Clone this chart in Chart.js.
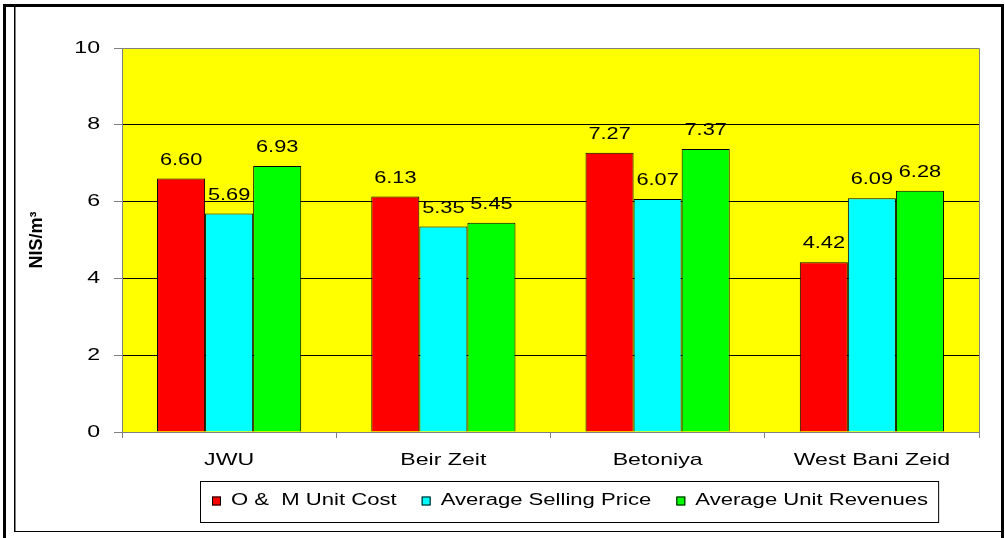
<!DOCTYPE html>
<html>
<head>
<meta charset="utf-8">
<script src="https://cdn.jsdelivr.net/npm/chart.js@4"></script>
<style>
  html, body { margin: 0; padding: 0; background: #fff; }
  #wrap { width: 1005px; height: 538px; position: relative; }
</style>
</head>
<body>
<div id="wrap"><canvas id="costChart" width="1005" height="538"></canvas></div>
<script>
// Data
const sites = ["JWU", "Beir Zeit", "Betoniya", "West Bani Zeid"];
const omUnitCost = [6.60, 6.13, 7.27, 4.42];
const avgSellingPrice = [5.69, 5.35, 6.07, 6.09];
const avgUnitRevenues = [6.93, 5.45, 7.37, 6.28];
const yTicks = [0, 2, 4, 6, 8, 10];
const seriesNames = ["O &  M Unit Cost", "Average Selling Price", "Average Unit Revenues"];
const seriesColors = ["#FF0000", "#00FFFF", "#00FF00"];

const FONT = "'Liberation Sans', Arial, sans-serif";
const SX = 1.36; // the original text is drawn horizontally stretched

// draw a string stretched sideways, like the Excel export
function drawWide(ctx, text, x, y, align, sx = SX) {
  ctx.save();
  ctx.translate(x, y);
  ctx.scale(sx, 1);
  ctx.textAlign = align;
  ctx.fillText(text, 0, 0);
  ctx.restore();
}

const excelLook = {
  id: "excelLook",
  beforeDraw(chart) {
    const ctx = chart.ctx;
    const a = chart.chartArea;
    ctx.save();
    ctx.fillStyle = "#FFFF00";
    ctx.fillRect(a.left, a.top, a.right - a.left, a.bottom - a.top);
    ctx.restore();
  },
  afterDatasetsDraw(chart) {
    const ctx = chart.ctx;
    ctx.save();
    ctx.font = "16px " + FONT;
    ctx.fillStyle = "#000";
    ctx.textBaseline = "alphabetic";
    chart.data.datasets.forEach((ds, i) => {
      chart.getDatasetMeta(i).data.forEach((bar, j) => {
        drawWide(ctx, ds.data[j].toFixed(2), bar.x, bar.y - 14, "center");
      });
    });
    ctx.restore();
  },
  afterDraw(chart) {
    const ctx = chart.ctx;
    const a = chart.chartArea;
    const xs = chart.scales.x;
    const ys = chart.scales.y;
    ctx.save();

    // plot area border
    ctx.strokeStyle = "#808080";
    ctx.lineWidth = 1;
    ctx.beginPath();
    ctx.moveTo(a.left, a.top + 0.5);
    ctx.lineTo(a.right + 0.5, a.top + 0.5);
    ctx.lineTo(a.right + 0.5, a.bottom);
    ctx.stroke();

    // tick labels
    ctx.fillStyle = "#000";
    ctx.font = "17px " + FONT;
    ctx.textBaseline = "middle";
    ys.ticks.forEach((t) => {
      drawWide(ctx, String(t.value), a.left - 22, ys.getPixelForValue(t.value), "right");
    });
    ctx.textBaseline = "alphabetic";
    sites.forEach((s, i) => {
      drawWide(ctx, s, xs.getPixelForValue(i), a.bottom + 33, "center");
    });

    // legend
    const LSX = 1.38;
    ctx.font = "16px " + FONT;
    ctx.textBaseline = "middle";
    const cy = 501;
    let x = 212;
    chart.data.datasets.forEach((ds, i) => {
      ctx.fillStyle = ds.backgroundColor;
      ctx.fillRect(x, cy - 4.5, 9, 9);
      ctx.strokeStyle = "#000";
      ctx.strokeRect(x + 0.5, cy - 4, 8, 8);
      ctx.fillStyle = "#000";
      drawWide(ctx, ds.label, x + 19, cy, "left", LSX);
      const w = ctx.measureText(ds.label).width * LSX;
      x = x + 19 + w + (i < chart.data.datasets.length - 1 ? 25 : 0);
    });
    ctx.strokeStyle = "#000";
    ctx.strokeRect(200.5, 481.5, x + 10 - 200, 41);

    // chart frame
    ctx.fillStyle = "#000";
    ctx.fillRect(3, 4, 3, 534);
    ctx.fillRect(3, 4, 1001, 3);
    ctx.fillRect(1001, 4, 3, 534);
    ctx.fillRect(14, 7, 1, 525);
    ctx.fillStyle = "#808080";
    ctx.fillRect(15, 7, 1, 524);
    ctx.fillStyle = "#000";
    ctx.fillRect(14, 531, 987, 1);
    ctx.restore();
  }
};

const ctx = document.getElementById("costChart").getContext("2d");

const costChart = new Chart(ctx, {
  type: "bar",
  data: {
    labels: sites,
    datasets: [
      { label: seriesNames[0], data: omUnitCost, backgroundColor: seriesColors[0] },
      { label: seriesNames[1], data: avgSellingPrice, backgroundColor: seriesColors[1] },
      { label: seriesNames[2], data: avgUnitRevenues, backgroundColor: seriesColors[2] },
    ],
  },
  options: {
    responsive: false,
    animation: false,
    devicePixelRatio: 1,
    layout: { padding: { left: 16, right: 26, top: 48, bottom: 66 } },
    datasets: {
      bar: {
        borderColor: "#000",
        borderWidth: 1,
        barPercentage: 1,
        categoryPercentage: 0.673,
      },
    },
    plugins: {
      legend: { display: false },
      tooltip: { enabled: false },
    },
    scales: {
      x: {
        afterFit: (s) => { s.height = 40; },
        grid: {
          offset: true,
          drawOnChartArea: false,
          tickLength: 6,
          color: "#808080",
        },
        border: { color: "#808080" },
        // labels are drawn stretched by the plugin
        ticks: { color: "rgba(0,0,0,0)", font: { family: FONT, size: 17 } },
      },
      y: {
        min: 0,
        max: 10,
        afterFit: (s) => { s.width = 106; },
        afterBuildTicks: (s) => { s.ticks = yTicks.map((v) => ({ value: v })); },
        grid: {
          color: (c) => (c.tick && (c.tick.value === 0 || c.tick.value === 10) ? "#808080" : "#000"),
          tickColor: "#808080",
          tickLength: 8,
        },
        border: { color: "#808080" },
        ticks: { color: "rgba(0,0,0,0)", font: { family: FONT, size: 17 } },
        title: {
          display: true,
          text: "NIS/m³",
          color: "#000",
          font: { family: FONT, size: 18, weight: "bold" },
          padding: { top: 10, bottom: 0 },
        },
      },
    },
  },
  plugins: [excelLook],
});
</script>
</body>
</html>
